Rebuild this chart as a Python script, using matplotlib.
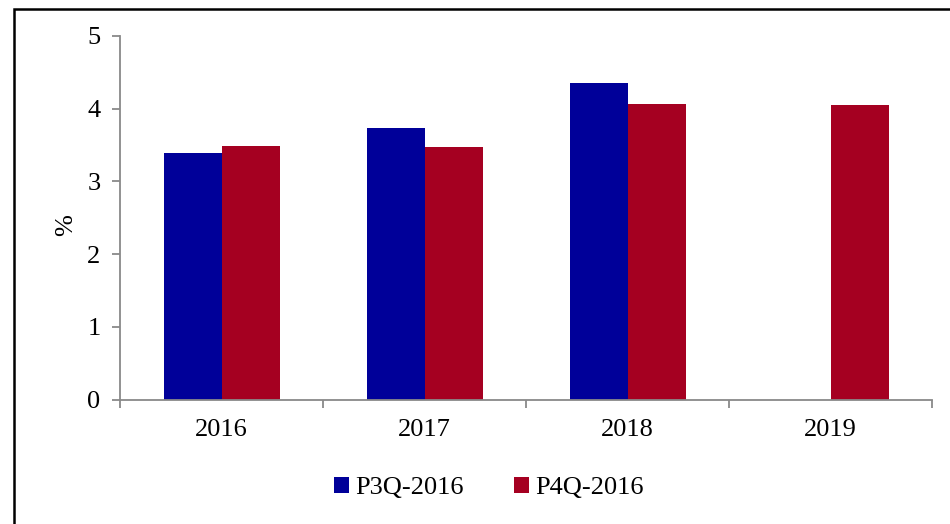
import matplotlib
matplotlib.use("Agg")
import matplotlib.pyplot as plt
from matplotlib.patches import Rectangle
import numpy as np

categories = ["2016", "2017", "2018", "2019"]
series_names = ["P3Q-2016", "P4Q-2016"]
p3q_2016 = [3.39, 3.73, 4.35, np.nan]
p4q_2016 = [3.49, 3.48, 4.06, 4.05]
colors = ["#000099", "#A50021"]
y_ticks = [0, 1, 2, 3, 4, 5]

W, H = 950, 524
fig = plt.figure(figsize=(W / 100, H / 100), dpi=100)
plt.rcParams["font.family"] = ["Liberation Serif", "DejaVu Serif"]

ax = fig.add_axes([120 / W, (H - 399.5) / H, (932 - 120) / W, (399.5 - 36) / H])

x = np.arange(len(categories))
bw = 58 / 203
ax.bar(x - bw / 2, p3q_2016, width=bw, color=colors[0], label=series_names[0])
ax.bar(x + bw / 2, p4q_2016, width=bw, color=colors[1], label=series_names[1])

ax.set_xlim(-0.5, len(categories) - 0.5)
ax.set_ylim(0, 5)
ax.set_yticks(y_ticks)
ax.set_yticklabels([str(t) for t in y_ticks], fontsize=19)

# category labels centred, tick marks on category boundaries
ax.set_xticks(x)
ax.set_xticklabels(categories, fontsize=19)
ax.tick_params(axis="x", length=0, pad=14)
ax.set_xticks(np.arange(-0.5, len(categories)), minor=True)
ax.tick_params(axis="x", which="minor", length=6, color="#898989", width=1.3)
ax.tick_params(axis="y", length=6, color="#898989", width=1.3, pad=8)

for s in ["top", "right"]:
    ax.spines[s].set_visible(False)
for s in ["left", "bottom"]:
    ax.spines[s].set_color("#898989")
    ax.spines[s].set_linewidth(1.3)

fig.text(66 / W, 1 - 225 / H, "%", rotation=90, fontsize=19, ha="center", va="center")

leg = fig.legend(loc="center", bbox_to_anchor=(489 / W, 1 - 488 / H), ncol=2,
                 frameon=False, fontsize=19, handlelength=0.55, handleheight=0.55,
                 handletextpad=0.25, columnspacing=1.9)

# outer frame
fig.patches.append(Rectangle((14 / W, -0.05), 1.1, 1 - 9 / H + 0.05,
                             transform=fig.transFigure, fill=False,
                             edgecolor="black", linewidth=1.8))

fig.savefig("out.png", dpi=100)
